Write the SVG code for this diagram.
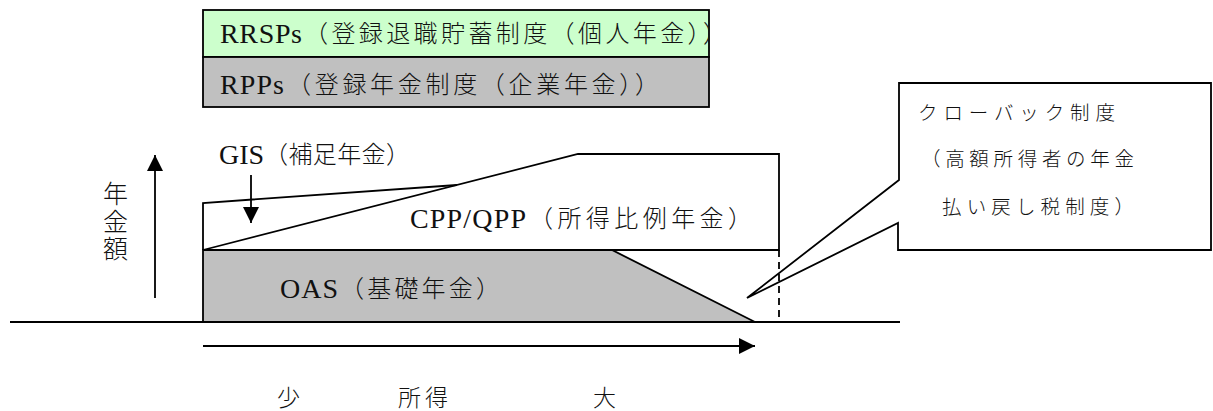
<svg xmlns="http://www.w3.org/2000/svg" width="1213" height="411" viewBox="0 0 1213 411">
<style>
text{font-family:"Noto Sans CJK JP",sans-serif;font-size:24px;font-weight:300;fill:#111}
text.lat{font-family:"Liberation Serif","Times New Roman",serif;font-size:28px;font-weight:400}
text.sm{font-size:19.5px}
.ln{fill:none;stroke:#000;stroke-width:1.8}
.bx{stroke:#000;stroke-width:1.8}
</style>
<defs>
<marker id="ah" viewBox="0 0 10 10" refX="10" refY="5" markerWidth="16" markerHeight="16" markerUnits="userSpaceOnUse" orient="auto"><path d="M0,0 L10,5 L0,10 Z" fill="#000"/></marker>
<clipPath id="c1"><rect x="203" y="10" width="505" height="47"/></clipPath>
</defs>
<rect width="1213" height="411" fill="#fff"/>
<g id="rrsps">
<rect class="bx" x="203" y="10" width="506" height="47" fill="#ccffcc"/>
<g clip-path="url(#c1)">
<text class="lat" x="220" y="43" textLength="82" lengthAdjust="spacing">RRSPs</text>
<text x="304" y="42" textLength="423" lengthAdjust="spacing">（登録退職貯蓄制度（個人年金））</text>
</g>
</g>
<g id="rpps">
<rect class="bx" x="203" y="57" width="506" height="50" fill="#c0c0c0"/>
<text class="lat" x="220" y="94" textLength="64" lengthAdjust="spacing">RPPs</text>
<text x="287" y="93" textLength="372" lengthAdjust="spacing">（登録年金制度（企業年金））</text>
</g>
<g id="oas">
<polygon class="bx" points="203,250 612,250 755,322 203,322" fill="#c0c0c0"/>
<text class="lat" x="280" y="298" textLength="58" lengthAdjust="spacing">OAS</text>
<text x="340" y="297" textLength="160" lengthAdjust="spacing">（基礎年金）</text>
</g>
<g id="cpp">
<polyline class="ln" points="203,250 578,154 779,154 779,250 203,250"/>
<text class="lat" x="410" y="228" textLength="116" lengthAdjust="spacing">CPP/QPP</text>
<text x="529" y="227" textLength="223" lengthAdjust="spacing">（所得比例年金）</text>
</g>
<g id="gis">
<polyline class="ln" points="203,250 203,203 457,185"/>
<text class="lat" x="219" y="164" textLength="45" lengthAdjust="spacing">GIS</text>
<text x="264" y="163" textLength="146" lengthAdjust="spacing">（補足年金）</text>
</g>
<g id="clawback">
<path class="bx" d="M899,83 L1211,83 L1211,250 L898,250 L898,223 L747,298 L899,180 Z" fill="#fff"/>
<text class="sm" x="918" y="120" textLength="197" lengthAdjust="spacing">クローバック制度</text>
<text class="sm" x="921" y="166" textLength="213" lengthAdjust="spacing">（高額所得者の年金</text>
<text class="sm" x="942" y="214" textLength="192" lengthAdjust="spacing">払い戻し税制度）</text>
</g>
<g id="yaxis">
<text x="115.5" y="181" style="font-size:25px;writing-mode:vertical-rl;letter-spacing:2.5px">年金額</text>
</g>
<g id="xlabels">
<text x="277" y="406" style="font-size:23px">少</text>
<text x="398" y="406" style="font-size:23px" textLength="50" lengthAdjust="spacing">所得</text>
<text x="593" y="406" style="font-size:23px">大</text>
</g>
<g id="connectors">
<line class="ln" x1="10" y1="322" x2="203" y2="322"/>
<line class="ln" x1="755" y1="322" x2="900" y2="322"/>
<line class="ln" x1="779" y1="250" x2="779" y2="322" stroke-dasharray="7,5"/>
<line class="ln" x1="155" y1="298" x2="155" y2="155" marker-end="url(#ah)"/>
<line class="ln" x1="251" y1="175" x2="251" y2="223" marker-end="url(#ah)"/>
<line class="ln" x1="203" y1="346" x2="755" y2="346" marker-end="url(#ah)"/>
</g>
</svg>
